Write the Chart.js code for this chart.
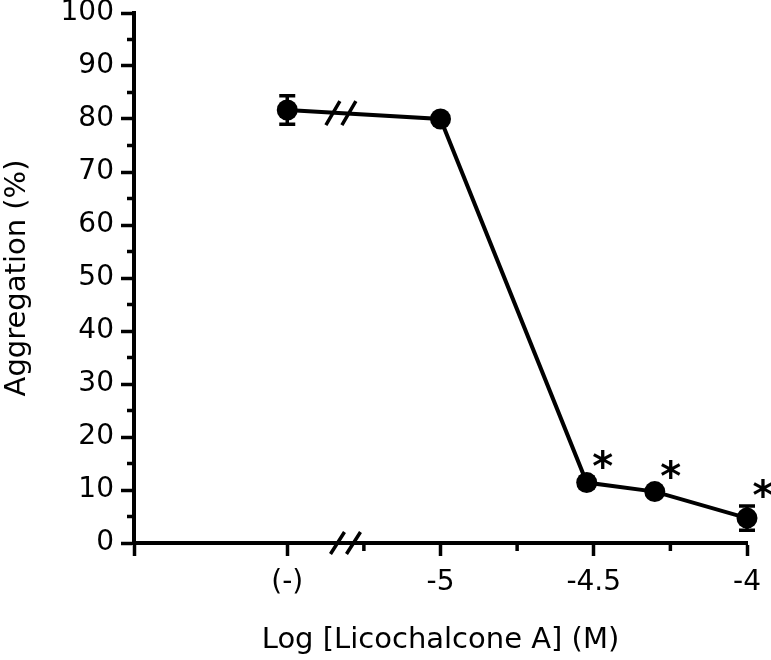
<!DOCTYPE html>
<html>
<head>
<meta charset="utf-8">
<script src="https://cdn.jsdelivr.net/npm/chart.js@4/dist/chart.umd.min.js"></script>
<style>
  html, body { margin: 0; padding: 0; background: #fff; }
  #wrap { width: 771px; height: 660px; }
</style>
</head>
<body>
<div id="wrap"><canvas id="chart" width="771" height="660"></canvas></div>
<script>
// values
const doseLabels = ["(-)", "-5", "-4.5", "-4"];
const doseTickPos = [-5.5, -5, -4.5, -4];      // (-) sits half a decade left of -5
const doseLog = [-5.5, -5, -4.523, -4.301, -4];  // control, 10, 30, 50, 100 uM
const aggregation = [81.7, 80.0, 11.4, 9.7, 4.7];
const aggSem = [2.7, 0.6, 1.0, 0.8, 2.3];
const significant = [false, false, true, true, true];
const xMinor = [-5.25, -4.75, -4.25];
const yMinor = [5, 15, 25, 35, 45, 55, 65, 75, 85, 95];
const lineBreakAt = -5.325;
const axisBreakAt = -5.31;

const FONT = "'DejaVu Sans', sans-serif";

// error bars, minor ticks, axis breaks and asterisks
const extras = {
  id: "extras",
  beforeDatasetsDraw(chart) {
    const { ctx, scales: { x, y } } = chart;
    ctx.save();
    ctx.strokeStyle = "#000";
    ctx.lineWidth = 3.5;
    for (let i = 0; i < doseLog.length; i++) {
      const px = x.getPixelForValue(doseLog[i]);
      const top = y.getPixelForValue(aggregation[i] + aggSem[i]);
      const bot = y.getPixelForValue(aggregation[i] - aggSem[i]);
      ctx.beginPath();
      ctx.moveTo(px, top); ctx.lineTo(px, bot);
      ctx.moveTo(px - 8, top); ctx.lineTo(px + 8, top);
      ctx.moveTo(px - 8, bot); ctx.lineTo(px + 8, bot);
      ctx.stroke();
    }
    ctx.restore();
  },
  afterDraw(chart) {
    const { ctx, chartArea, scales: { x, y } } = chart;
    ctx.save();
    ctx.strokeStyle = "#000";
    ctx.lineWidth = 3.5;

    // minor ticks
    ctx.beginPath();
    for (const v of xMinor) {
      const px = x.getPixelForValue(v);
      ctx.moveTo(px, chartArea.bottom);
      ctx.lineTo(px, chartArea.bottom + 8);
    }
    for (const v of yMinor) {
      const py = y.getPixelForValue(v);
      ctx.moveTo(chartArea.left, py);
      ctx.lineTo(chartArea.left - 7, py);
    }
    ctx.stroke();

    // "//" on the data line
    const meta = chart.getDatasetMeta(0);
    const p0 = meta.data[0], p1 = meta.data[1];
    const bx = x.getPixelForValue(lineBreakAt);
    const by = p0.y + (p1.y - p0.y) * (bx - p0.x) / (p1.x - p0.x);
    drawBreak(ctx, bx, by, 12);

    // "//" on the x axis
    drawBreak(ctx, x.getPixelForValue(axisBreakAt), chartArea.bottom, 11);

    // significance asterisks
    ctx.fillStyle = "#000";
    ctx.font = "bold 40px " + FONT;
    ctx.textAlign = "center";
    ctx.textBaseline = "alphabetic";
    for (let i = 0; i < doseLog.length; i++) {
      if (!significant[i]) continue;
      const px = x.getPixelForValue(doseLog[i]) + 16;
      const py = y.getPixelForValue(aggregation[i] + aggSem[i]) - 18;
      ctx.fillText("*", px, py + 21);
    }
    ctx.restore();
  }
};

function drawBreak(ctx, cx, cy, h) {
  ctx.beginPath();
  for (const off of [-8, 8]) {
    ctx.moveTo(cx + off - 7, cy + h);
    ctx.lineTo(cx + off + 7, cy - h);
  }
  ctx.stroke();
}

new Chart(document.getElementById("chart"), {
  type: "line",
  data: {
    datasets: [{
      data: doseLog.map((v, i) => ({ x: v, y: aggregation[i] })),
      borderColor: "#000",
      borderWidth: 4,
      pointRadius: 10.5,
      pointHoverRadius: 10.5,
      pointBackgroundColor: "#000",
      pointBorderColor: "#000",
      pointBorderWidth: 0,
      tension: 0,
      clip: false
    }]
  },
  options: {
    responsive: false,
    animation: false,
    devicePixelRatio: 1,
    layout: { padding: { top: 13, right: 24, left: 0, bottom: 0 } },
    plugins: { legend: { display: false }, tooltip: { enabled: false } },
    scales: {
      x: {
        type: "linear",
        min: -6,
        max: -4,
        afterBuildTicks: (s) => { s.ticks = [-6, ...doseTickPos].map(v => ({ value: v })); },
        afterFit: (s) => { s.height = 117; s.paddingLeft = 0; s.paddingRight = 0; },
        ticks: {
          autoSkip: false,
          maxRotation: 0,
          color: "#000",
          padding: 13,
          font: { family: FONT, size: 28, lineHeight: 1 },
          callback: (v) => {
            const i = doseTickPos.indexOf(v);
            return i < 0 ? "" : doseLabels[i];
          }
        },
        grid: { drawOnChartArea: false, drawTicks: true, tickLength: 13, tickWidth: 3.5, tickColor: "#000" },
        border: { color: "#000", width: 4 },
        title: {
          display: true,
          text: "Log [Licochalcone A] (M)",
          color: "#000",
          font: { family: FONT, size: 29, lineHeight: 1.2 },
          padding: { top: 0, bottom: 2 }
        }
      },
      y: {
        min: 0,
        max: 100,
        afterFit: (s) => { s.width = 134; s.paddingTop = 0; s.paddingBottom = 0; },
        ticks: {
          stepSize: 10,
          color: "#000",
          padding: 7,
          font: { family: FONT, size: 28, lineHeight: 1 }
        },
        grid: { drawOnChartArea: false, drawTicks: true, tickLength: 13, tickWidth: 3.5, tickColor: "#000" },
        border: { color: "#000", width: 4 },
        title: {
          display: true,
          text: "Aggregation (%)",
          color: "#000",
          font: { family: FONT, size: 29, lineHeight: 1.2 },
          padding: { top: 0, bottom: 0 }
        }
      }
    }
  },
  plugins: [extras]
});
</script>
</body>
</html>
